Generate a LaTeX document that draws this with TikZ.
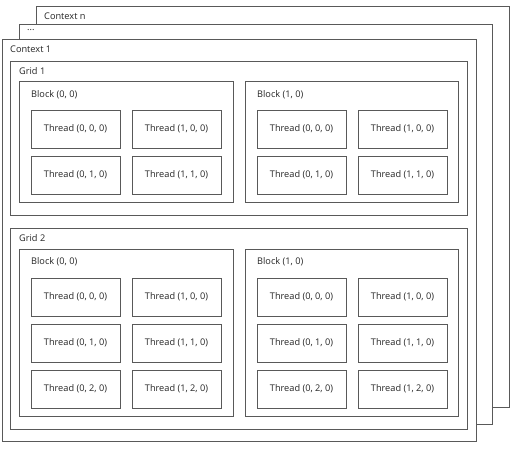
\documentclass[tikz,border=0pt]{standalone}
\usepackage{fontspec}
\setmainfont{Open Sans}
\begin{document}
\begin{tikzpicture}[x=1pt,y=-1pt,
  box/.style={draw=black!65,line width=1pt,fill=white,anchor=north west,inner sep=0pt,outer sep=0pt},
  lbl/.style={anchor=west,inner sep=0pt,font=\fontsize{9.2}{11}\selectfont,text=black!85},
  thr/.style={box,minimum width=89pt,minimum height=38pt,font=\fontsize{9.2}{11}\selectfont,text=black!85}]
\useasboundingbox (0,0) rectangle (513,448);
% contexts
\node[box,minimum width=473pt,minimum height=401pt] (ctxn) at (36,6) {};
\node[lbl] (ctxnl) at (44,16) {Context n};
\node[box,minimum width=473pt,minimum height=400pt] (ctxd) at (19,24) {};
\node[lbl] (ctxdl) at (27,30) {...};
\node[box,minimum width=474pt,minimum height=402pt] (ctx1) at (2,39) {};
\node[lbl] (ctx1l) at (10,49) {Context 1};
% grids
\node[box,minimum width=457pt,minimum height=154pt] (g1) at (10,61) {};
\node[lbl] (g1l) at (19,71) {Grid 1};
\node[box,minimum width=457pt,minimum height=201pt] (g2) at (10,228) {};
\node[lbl] (g2l) at (19,238) {Grid 2};
% blocks grid 1
\node[box,minimum width=214pt,minimum height=121pt] (b100) at (19,81) {};
\node[lbl] (b100l) at (31,95) {Block (0, 0)};
\node[box,minimum width=213pt,minimum height=121pt] (b110) at (245,81) {};
\node[lbl] (b110l) at (257,95) {Block (1, 0)};
% blocks grid 2
\node[box,minimum width=214pt,minimum height=167pt] (b200) at (19,249) {};
\node[lbl] (b200l) at (31,262) {Block (0, 0)};
\node[box,minimum width=213pt,minimum height=167pt] (b210) at (245,249) {};
\node[lbl] (b210l) at (257,262) {Block (1, 0)};
% threads grid 1
\foreach \bx/\xa/\xb in {a/31/132, b/257/358}{
  \foreach \y/\r in {110/0,156/1}{
    \node[thr] (t1\bx0\r) at (\xa,\y) {Thread (0, \r, 0)};
    \node[thr] (t1\bx1\r) at (\xb,\y) {Thread (1, \r, 0)};
  }
}
% threads grid 2
\foreach \bx/\xa/\xb in {a/31/132, b/257/358}{
  \foreach \y/\r in {278/0,324/1,370/2}{
    \node[thr] (t2\bx0\r) at (\xa,\y) {Thread (0, \r, 0)};
    \node[thr] (t2\bx1\r) at (\xb,\y) {Thread (1, \r, 0)};
  }
}
\end{tikzpicture}
\end{document}
